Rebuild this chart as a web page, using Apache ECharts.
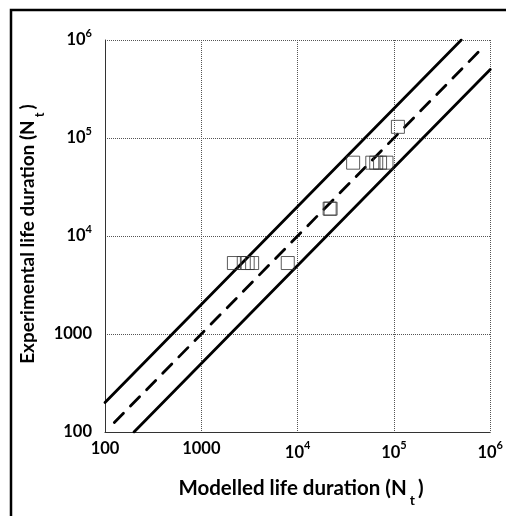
<!DOCTYPE html>
<html>
<head>
<meta charset="utf-8">
<style>
html,body{margin:0;padding:0;background:#fff;}
#chart{width:506px;height:516px;}
</style>
<script src="https://cdn.jsdelivr.net/npm/echarts@6/dist/echarts.min.js"></script>
</head>
<body>
<div id="chart"></div>
<script>
// Tick values for both log axes
var tickValues = [100, 1000, 10000, 100000, 1000000];

// Experimental data: modelled life (x) vs experimental life (y)
var modelled = [2180, 2760, 3030, 3370, 7900, 21500, 22000, 37700, 59600, 65500, 71800, 83700, 110000];
var experimental = [5300, 5300, 5300, 5300, 5300, 19000, 19000, 56000, 56000, 56000, 56000, 56000, 130000];

// Reference lines
var equalX = [125, 800000];
var equalY = [125, 800000];
var upperX = [100, 500000];
var upperY = [200, 1000000];
var lowerX = [200, 1000000];
var lowerY = [100, 500000];

// Axis titles
var xTitle = 'Modelled life duration (N{sub|t})';
var yTitle = 'Experimental life duration (N{sub|t})';

function pairs(a, b) { return a.map(function (v, i) { return [v, b[i]]; }); }

var FONT = 'Lato';
function fmt(v) {
  var e = Math.round(Math.log10(v));
  if (e >= 4) return '10{sup|' + e + '}';
  return String(Math.round(v));
}
var labelRich = {
  sup: { fontFamily: FONT, fontWeight: 'bold', fontSize: 11, color: '#000', padding: [0, 0, 14, 0] }
};
function subRich(size) {
  return { sub: { fontFamily: FONT, fontWeight: 'bold', fontSize: size, fill: '#000', padding: [24, 3, 0, 3] } };
}

var chart = echarts.init(document.getElementById('chart'), null, { renderer: 'canvas' });
chart.setOption({
  animation: false,
  backgroundColor: '#fff',
  graphic: [
    {
      type: 'rect', silent: true, z: 100,
      shape: { x: 11, y: 10, width: 520, height: 530 },
      style: { fill: 'none', stroke: '#000', lineWidth: 2.5 }
    },
    {
      type: 'text', silent: true, x: 301, y: 488,
      style: {
        text: xTitle, fontFamily: FONT, fontWeight: 'bold', fontSize: 20.5, fill: '#000',
        align: 'center', verticalAlign: 'middle', rich: subRich(14)
      }
    },
    {
      type: 'text', silent: true, x: 28, y: 234, rotation: Math.PI / 2,
      style: {
        text: yTitle, fontFamily: FONT, fontWeight: 'bold', fontSize: 19, fill: '#000',
        align: 'center', verticalAlign: 'middle', rich: subRich(13)
      }
    }
  ],
  grid: { left: 105, top: 40, right: 8, bottom: 84 },
  xAxis: {
    type: 'log', logBase: 10, min: 100, max: 1000000,
    axisLine: { show: true, lineStyle: { color: '#333', width: 1 } },
    axisTick: { show: false },
    axisLabel: { fontFamily: FONT, fontWeight: 'bold', fontSize: 16.5, color: '#000', margin: 8, formatter: fmt, rich: labelRich },
    splitLine: { show: true, lineStyle: { color: '#555', type: 'dotted', width: 1 } },
    minorTick: { show: false }
  },
  yAxis: {
    type: 'log', logBase: 10, min: 100, max: 1000000,
    axisLine: { show: true, lineStyle: { color: '#333', width: 1 } },
    axisTick: { show: false },
    axisLabel: { fontFamily: FONT, fontWeight: 'bold', fontSize: 16.5, color: '#000', margin: 13, formatter: fmt, rich: labelRich },
    splitLine: { show: true, lineStyle: { color: '#555', type: 'dotted', width: 1 } }
  },
  series: [
    {
      type: 'line', data: pairs(upperX, upperY), symbol: 'none',
      lineStyle: { color: '#000', width: 2.8, cap: 'round' }, z: 2
    },
    {
      type: 'line', data: pairs(lowerX, lowerY), symbol: 'none',
      lineStyle: { color: '#000', width: 2.8, cap: 'round' }, z: 2
    },
    {
      type: 'line', data: pairs(equalX, equalY), symbol: 'none',
      lineStyle: { color: '#000', width: 2.8, type: [13, 10], cap: 'round' }, z: 2
    },
    {
      type: 'scatter', data: pairs(modelled, experimental), symbol: 'rect', symbolSize: 13,
      itemStyle: { color: 'rgba(255,255,255,0)', borderColor: '#333', borderWidth: 1 }, z: 3
    }
  ]
});
</script>
</body>
</html>
